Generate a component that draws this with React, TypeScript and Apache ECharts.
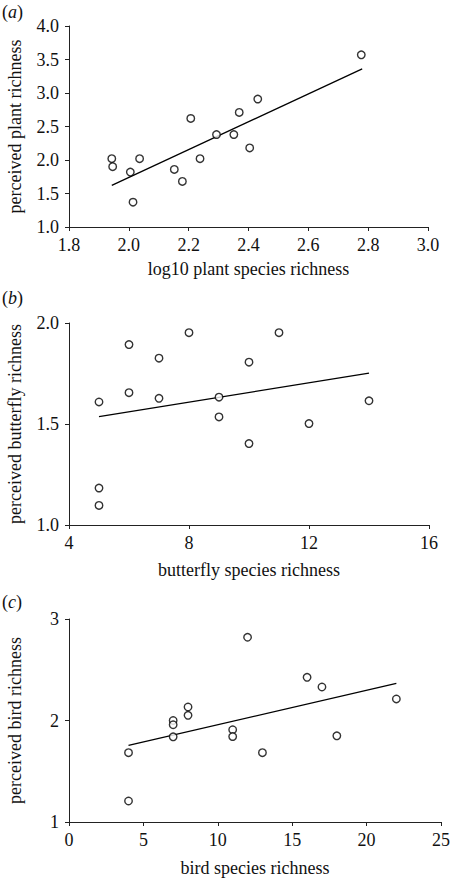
import React, { useEffect, useRef } from "react";
import * as echarts from "echarts";

// Panel (a): plants
const plantX = [1.943, 1.946, 2.036, 2.005, 2.014, 2.152, 2.179, 2.207, 2.238, 2.293, 2.351, 2.369, 2.404, 2.431, 2.777];
const plantY = [2.02, 1.9, 2.02, 1.82, 1.37, 1.86, 1.68, 2.62, 2.02, 2.38, 2.38, 2.71, 2.18, 2.91, 3.57];
const plantFitX = [1.943, 2.78];
const plantFitY = [1.62, 3.36];

// Panel (b): butterflies
const butterflyX = [5, 5, 5, 6, 6, 7, 7, 8, 9, 9, 10, 10, 11, 12, 14];
const butterflyY = [1.609, 1.183, 1.097, 1.893, 1.655, 1.826, 1.627, 1.952, 1.633, 1.535, 1.806, 1.403, 1.952, 1.502, 1.615];
const butterflyFitX = [5, 14];
const butterflyFitY = [1.536, 1.752];

// Panel (c): birds
const birdX = [4, 4, 7, 7, 7, 8, 8, 11, 11, 12, 13, 16, 17, 18, 22];
const birdY = [1.683, 1.207, 2.0, 1.958, 1.839, 2.133, 2.051, 1.909, 1.842, 2.82, 1.683, 2.425, 2.33, 1.849, 2.212];
const birdFitX = [4, 22];
const birdFitY = [1.755, 2.366];

const panelLabels = ["a", "b", "c"];
const xTitles = ["log10 plant species richness", "butterfly species richness", "bird species richness"];
const yTitles = ["perceived plant richness", "perceived butterfly richness", "perceived bird richness"];

const FONT = "'Liberation Serif', 'Times New Roman', serif";

export default function App() {
  const ref = useRef<HTMLDivElement>(null);
  useEffect(() => {
    if (!ref.current) return;
    const chart = echarts.init(ref.current, null, { renderer: "svg" });
    const zip = (xs: number[], ys: number[]) => xs.map((x, i) => [x, ys[i]]);
    const grids = [
      { left: 69, right: 22, top: 26, height: 201, outerBoundsMode: "none", containLabel: false },
      { left: 69, right: 21, top: 323, height: 202, outerBoundsMode: "none", containLabel: false },
      { left: 69, right: 9, top: 619, height: 203, outerBoundsMode: "none", containLabel: false },
    ];
    const xCfg = [
      { min: 1.8, max: 3.0, interval: 0.2, fmt: (v: number) => v.toFixed(1), gap: 33 },
      { min: 4, max: 16, interval: 4, fmt: (v: number) => String(v), gap: 36 },
      { min: 0, max: 25, interval: 5, fmt: (v: number) => String(v), gap: 37 },
    ];
    const yCfg = [
      { min: 1, max: 4, interval: 0.5, fmt: (v: number) => v.toFixed(1) },
      { min: 1, max: 2, interval: 0.5, fmt: (v: number) => v.toFixed(1) },
      { min: 1, max: 3, interval: 1, fmt: (v: number) => String(v) },
    ];
    const axisLine = { show: true, lineStyle: { color: "#222", width: 1 } };
    const axisTick = { show: true, length: 4, inside: false, lineStyle: { color: "#222", width: 1 } };
    const scatterData = [zip(plantX, plantY), zip(butterflyX, butterflyY), zip(birdX, birdY)];
    const fitData = [zip(plantFitX, plantFitY), zip(butterflyFitX, butterflyFitY), zip(birdFitX, birdFitY)];
    const labelTops = [3, 289, 593];

    const option: any = {
      animation: false,
      backgroundColor: "#fff",
      textStyle: { fontFamily: FONT },
      grid: grids,
      xAxis: xCfg.map((c, i) => ({
        type: "value",
        gridIndex: i,
        min: c.min,
        max: c.max,
        interval: c.interval,
        name: xTitles[i],
        nameLocation: "middle",
        nameGap: c.gap,
        nameTextStyle: { fontFamily: FONT, fontSize: 18, color: "#111" },
        axisLine,
        axisTick,
        splitLine: { show: false },
        axisLabel: { formatter: c.fmt, fontFamily: FONT, fontSize: 18, color: "#111", margin: 9 },
      })),
      yAxis: yCfg.map((c, i) => ({
        type: "value",
        gridIndex: i,
        min: c.min,
        max: c.max,
        interval: c.interval,
        name: yTitles[i],
        nameLocation: "middle",
        nameGap: 45,
        nameTextStyle: { fontFamily: FONT, fontSize: 18, color: "#111" },
        axisLine,
        axisTick,
        splitLine: { show: false },
        axisLabel: { formatter: c.fmt, fontFamily: FONT, fontSize: 18, color: "#111", margin: 10 },
      })),
      series: [
        ...scatterData.map((d, i) => ({
          type: "scatter",
          xAxisIndex: i,
          yAxisIndex: i,
          data: d,
          symbol: "circle",
          symbolSize: 7.5,
          itemStyle: { color: "#fff", borderColor: "#000", borderWidth: 1.4 },
          z: 3,
        })),
        ...fitData.map((d, i) => ({
          type: "line",
          xAxisIndex: i,
          yAxisIndex: i,
          data: d,
          symbol: "none",
          lineStyle: { color: "#000", width: 1.3 },
          z: 2,
        })),
      ],
      graphic: panelLabels.map((l, i) => ({
        type: "text",
        left: 2,
        top: labelTops[i],
        style: {
          text: "{n|(}{i|" + l + "}{n|)}",
          rich: {
            n: { fontFamily: FONT, fontSize: 18, fill: "#111", color: "#111" },
            i: { fontFamily: FONT, fontSize: 18, fontStyle: "italic", fill: "#111", color: "#111" },
          },
          fill: "#111",
        },
      })),
    };
    chart.setOption(option);
    return () => chart.dispose();
  }, []);
  return <div ref={ref} style={{ width: 450, height: 878, position: "absolute", left: 0, top: 0 }} />;
}
